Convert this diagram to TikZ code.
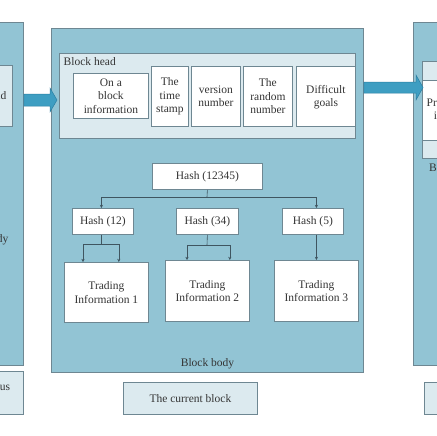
\documentclass[tikz,border=0pt]{standalone}
\usepackage{fontspec}
\setmainfont{Liberation Serif}
\usetikzlibrary{arrows.meta}
\definecolor{blockblue}{HTML}{92C4D4}
\definecolor{headlight}{HTML}{DCEAEF}
\definecolor{edgegray}{HTML}{6E8792}
\definecolor{arrowblue}{HTML}{3E9EC2}
\definecolor{arrowedge}{HTML}{2C7FA2}
\definecolor{txt}{HTML}{353535}
\definecolor{linegray}{HTML}{3F5560}
\tikzset{
  basefont/.style={font=\fontsize{11.5}{13.5}\selectfont, text=txt},
  blockbox/.style={draw=edgegray, fill=blockblue, line width=0.8pt, anchor=north west, inner sep=0pt},
  headbox/.style={draw=edgegray, fill=headlight, line width=0.8pt, anchor=north west, inner sep=0pt},
  whitebox/.style={draw=edgegray, fill=white, line width=0.8pt, anchor=north west, inner sep=0pt},
  lbl/.style={basefont, align=center, inner sep=0pt},
  conn/.style={draw=linegray, line width=0.6pt},
  tipped/.style={conn, -{Stealth[length=3.2pt,width=3.2pt]}},
  fatarrow/.style={fill=arrowblue, draw=arrowedge, line width=0.5pt, line join=miter}
}
\begin{document}
\begin{tikzpicture}[x=1pt,y=-1pt]
\useasboundingbox (0,0) rectangle (436,436);
\fill[white] (0,0) rectangle (436,436);

% ---------- previous block (left, cut off) ----------
\node[blockbox, minimum width=63pt, minimum height=343pt] (prevblock) at (-40,22) {};
\node[headbox, minimum width=62pt, minimum height=61pt] (prevhead) at (-50,65) {};
\node[lbl, anchor=east] (prevheadtxt) at (6.5,96) {Block head};
\node[lbl, anchor=east] (prevbodytxt) at (8.5,240) {Block body};
\node[headbox, minimum width=143pt, minimum height=43pt] (prevlabel) at (-120,371) {};
\node[lbl] (prevlabeltxt) at (-20,393) {The previous\\block};

% ---------- current block ----------
\node[blockbox, minimum width=312pt, minimum height=344pt] (curblock) at (51,28) {};
\node[headbox, minimum width=296pt, minimum height=85pt] (curhead) at (59,53) {};
\node[lbl, anchor=west] (headtxt) at (63.5,62) {Block head};

\node[whitebox, minimum width=75pt, minimum height=45pt] (b1) at (73,73) {};
\node[lbl] (b1t) at (b1.center) {On a\\block\\information};
\node[whitebox, minimum width=37pt, minimum height=60pt] (b2) at (151,66) {};
\node[lbl] (b2t) at (b2.center) {The\\time\\stamp};
\node[whitebox, minimum width=49pt, minimum height=60pt] (b3) at (191,66) {};
\node[lbl] (b3t) at (b3.center) {version\\number};
\node[whitebox, minimum width=49pt, minimum height=60pt] (b4) at (243,66) {};
\node[lbl] (b4t) at (b4.center) {The\\random\\number};
\node[whitebox, minimum width=59pt, minimum height=60pt] (b5) at (296,66) {};
\node[lbl] (b5t) at ([yshift=-1pt]b5.center) {Difficult\\goals};

% hash tree
\node[whitebox, minimum width=110pt, minimum height=26pt] (h0) at (152,163) {};
\node[lbl] (h0t) at (h0.center) {Hash (12345)};
\node[whitebox, minimum width=61pt, minimum height=26pt] (h1) at (72,208) {};
\node[lbl] (h1t) at (h1.center) {Hash (12)};
\node[whitebox, minimum width=62pt, minimum height=26pt] (h2) at (176,208) {};
\node[lbl] (h2t) at (h2.center) {Hash (34)};
\node[whitebox, minimum width=61pt, minimum height=26pt] (h3) at (282,208) {};
\node[lbl] (h3t) at (h3.center) {Hash (5)};

\node[whitebox, minimum width=84pt, minimum height=60pt] (t1) at (64,262) {};
\node[lbl] (t1t) at (t1.center) {Trading\\Information 1};
\node[whitebox, minimum width=84pt, minimum height=61pt] (t2) at (165,260) {};
\node[lbl] (t2t) at (t2.center) {Trading\\Information 2};
\node[whitebox, minimum width=84pt, minimum height=61pt] (t3) at (274,260) {};
\node[lbl] (t3t) at (t3.center) {Trading\\Information 3};

\node[lbl] (bodytxt) at (207.5,364) {Block body};

% connectors
\coordinate (j0) at (207,197);
\draw[conn] (h0.south) -- (j0);
\draw[tipped] (j0) -| ([xshift=-1.5pt]h1.north);
\draw[tipped] (j0) -| (h3.north -| t3.north);

\coordinate (j1) at (101,244);
\draw[conn] (h1.south -| j1) -- (j1);
\draw[tipped] (j1) -| ([xshift=19pt]t1.north west);
\draw[tipped] (j1) -| ([xshift=-30pt]t1.north east);

\coordinate (j2) at (207,245);
\draw[conn] (h2.south) -- (j2);
\draw[tipped] (j2) -| ([xshift=22pt]t2.north west);
\draw[tipped] (j2) -| ([xshift=-20pt]t2.north east);

\draw[tipped] (h3.south -| t3.north) -- (t3.north);

% label of current block
\node[headbox, minimum width=134pt, minimum height=32pt] (curlabel) at (123,382) {};
\node[lbl] (curlabeltxt) at (curlabel.center) {The current block};

% ---------- next block (right, cut off) ----------
\node[blockbox, minimum width=60pt, minimum height=343pt] (nextblock) at (413,22) {};
\node[headbox, minimum width=60pt, minimum height=97pt] (nexthead) at (422,61) {};
\node[whitebox, minimum width=60pt, minimum height=60pt] (nextinfo) at (422,80) {};
\node[lbl] (nextinfotxt) at (461,109) {Previous block\\information};
\node[lbl, anchor=west] (nextheadtxt) at (429,168) {Block head};
\node[headbox, minimum width=60pt, minimum height=32pt] (nextlabel) at (424,382) {};

% ---------- fat arrows ----------
\draw[fatarrow] (prevblock.east |- 0,94) -- (50,94) -- (50,88) -- (57,100) -- (50,112) -- (50,106) -- (prevblock.east |- 0,106) -- cycle;
\draw[fatarrow] (curblock.east |- 0,82) -- (416,82) -- (416,75) -- (423,87.5) -- (416,100) -- (416,93) -- (curblock.east |- 0,93) -- cycle;
\end{tikzpicture}
\end{document}
